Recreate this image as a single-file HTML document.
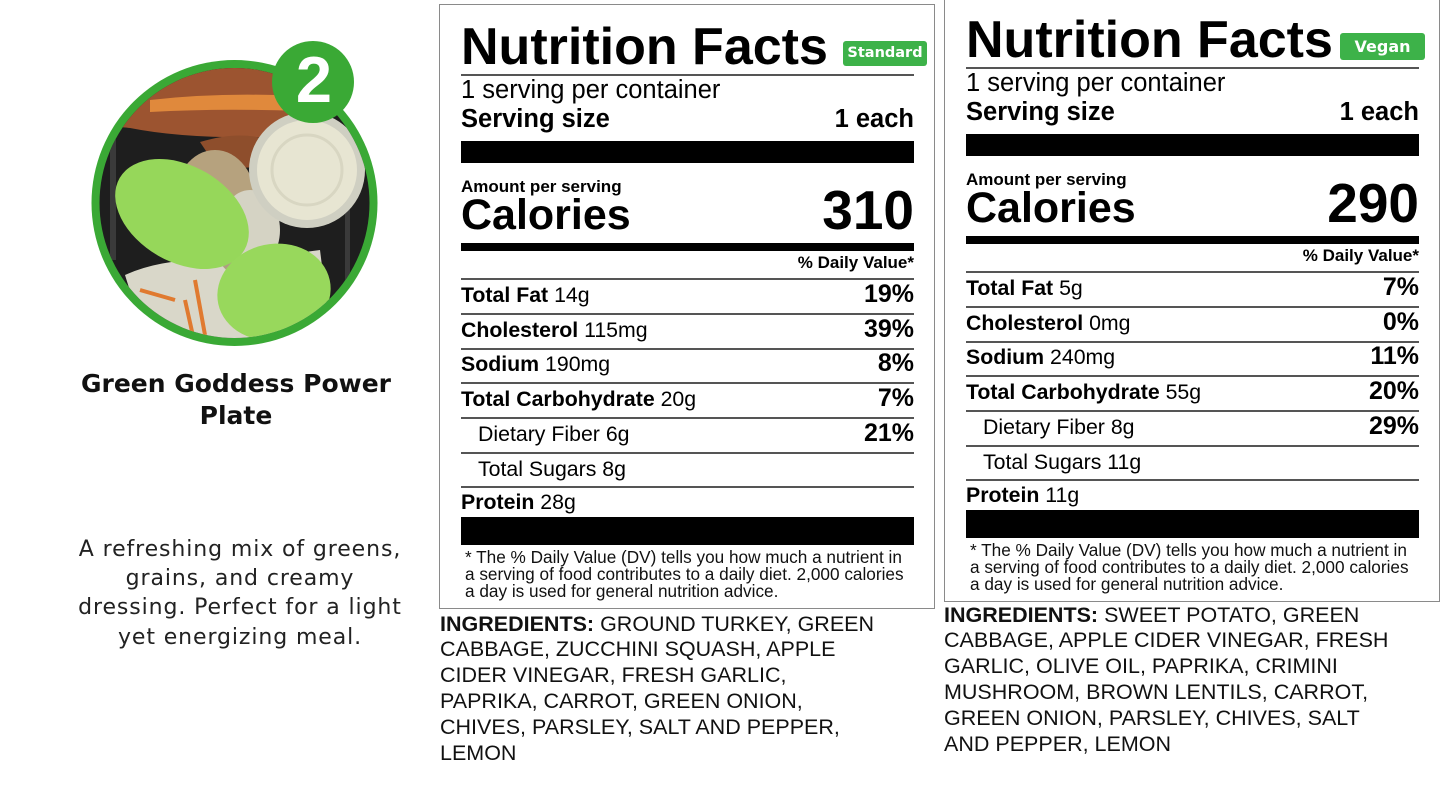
<!DOCTYPE html>
<html><head><meta charset="utf-8">
<style>
html,body{margin:0;padding:0;background:#fff;}
body{width:1445px;height:787px;position:relative;overflow:hidden;font-family:"Liberation Sans",Arial,sans-serif;color:#000;}
.t{position:absolute;white-space:nowrap;line-height:1;}
.b{font-weight:bold;}
.lab{position:absolute;width:1445px;height:787px;}
.box{position:absolute;left:439px;width:494px;border:1px solid #8a8a8a;}
.hl{position:absolute;left:461px;width:453px;height:2px;background:#555;}
.bar{position:absolute;left:461px;width:453px;background:#000;}
.r{right:531px;}
.row{font-size:21.3px;left:461px;}
.ind{left:478px;}
.pct{font-size:25px;font-weight:bold;right:531px;}
.badge{position:absolute;background:#3db249;border-radius:3px;color:#fff;font-family:"DejaVu Sans",sans-serif;font-weight:bold;font-size:14.5px;text-align:center;}
.foot{position:absolute;left:465px;font-size:17.2px;line-height:17.3px;white-space:nowrap;color:#111;}
.ing{position:absolute;font-size:21.5px;line-height:25.9px;white-space:nowrap;color:#111;}
</style></head>
<body>

<svg style="position:absolute;left:0;top:0" width="440" height="360" viewBox="0 0 440 360">
<defs><clipPath id="c"><circle cx="234.5" cy="203" r="135"/></clipPath></defs>
<circle cx="234.5" cy="203" r="143" fill="#3aa935"/>
<g clip-path="url(#c)">
 <rect x="90" y="55" width="300" height="300" fill="#1e1e1e"/>
 <rect x="110" y="130" width="6" height="130" fill="#3a3a3a"/>
 <rect x="345" y="200" width="5" height="80" fill="#3a3a3a"/>
 <path d="M100 125 Q150 72 240 62 L320 62 L320 135 Q200 142 130 128 Z" fill="#9c5430"/>
 <path d="M150 100 Q220 92 300 96 L300 111 Q220 108 150 112 Z" fill="#e0893c"/>
 <path d="M200 142 Q240 130 268 140 L258 166 Q230 172 212 160Z" fill="#8e4e2c"/>
 <path d="M125 275 Q170 255 230 262 L320 250 L330 330 L150 355 Z" fill="#d9d7c9"/>
 <path d="M140 290 L175 300 M195 280 L205 335 M185 300 L195 345 M230 275 L240 300 M135 305 L160 318" stroke="#e07a30" stroke-width="4" fill="none"/>
 <ellipse cx="215" cy="205" rx="42" ry="55" fill="#b6a27e"/>
 <ellipse cx="252" cy="258" rx="32" ry="20" fill="#ae9f80"/>
 <ellipse cx="250" cy="230" rx="30" ry="40" fill="#d5d3c4"/>
 <ellipse cx="182" cy="214" rx="72" ry="48" transform="rotate(30 182 214)" fill="#96d75a"/>
 <ellipse cx="274" cy="292" rx="57" ry="48" transform="rotate(-12 274 292)" fill="#98d85c"/>
 <circle cx="307" cy="170" r="58" fill="#cfcfc2"/>
 <circle cx="307" cy="170" r="50" fill="#e7e5d2"/>
 <circle cx="307" cy="170" r="35" fill="none" stroke="#d8d6c2" stroke-width="3"/>
</g>
<circle cx="313" cy="82" r="41" fill="#3aa935"/>
<text x="314" y="102" text-anchor="middle" font-family="Liberation Sans, sans-serif" font-weight="bold" font-size="65" fill="#fff">2</text>
</svg>

<div style="position:absolute;left:36px;width:400px;top:368.4px;text-align:center;font-family:'DejaVu Sans',sans-serif;font-weight:bold;font-size:25px;line-height:32px;color:#111;">Green Goddess Power<br>Plate</div>
<div style="position:absolute;left:40px;width:400px;top:534.7px;text-align:center;font-family:'DejaVu Sans',sans-serif;font-size:22px;letter-spacing:0.9px;line-height:29.3px;color:#222;white-space:nowrap;">A refreshing mix of greens,<br>grains, and creamy<br>dressing. Perfect for a light<br>yet energizing meal.</div>

<!-- Label 1 -->
<div class="lab" style="left:0;top:0;">
 <div class="box" style="top:4px;height:603px;"></div>
 <div class="t b" style="left:461px;top:21px;font-size:52px;">Nutrition Facts</div>
 <div class="badge" style="left:843px;top:41px;width:84px;height:25px;line-height:25px;">Standard</div>
 <div class="hl" style="top:74px;"></div>
 <div class="t" style="left:461px;top:78.4px;font-size:25.5px;">1 serving per container</div>
 <div class="t b" style="left:461px;top:107.4px;font-size:25.5px;">Serving size</div>
 <div class="t b r" style="top:107.4px;font-size:25.5px;">1 each</div>
 <div class="bar" style="top:141px;height:22px;"></div>
 <div class="t b" style="left:461px;top:177.6px;font-size:17px;">Amount per serving</div>
 <div class="t b" style="left:461px;top:193.6px;font-size:43px;">Calories</div>
 <div class="t b r" style="top:183.4px;font-size:55px;">310</div>
 <div class="bar" style="top:243px;height:8px;"></div>
 <div class="t b r" style="top:253.6px;font-size:17px;">% Daily Value*</div>
 <div class="hl" style="top:278px;"></div>
 <div class="t row" style="top:285px;"><b>Total Fat</b> 14g</div><div class="t pct" style="top:281.8px;">19%</div>
 <div class="hl" style="top:312.5px;"></div>
 <div class="t row" style="top:320px;"><b>Cholesterol</b> 115mg</div><div class="t pct" style="top:316.8px;">39%</div>
 <div class="hl" style="top:347.5px;"></div>
 <div class="t row" style="top:354px;"><b>Sodium</b> 190mg</div><div class="t pct" style="top:350.8px;">8%</div>
 <div class="hl" style="top:382px;"></div>
 <div class="t row" style="top:389px;"><b>Total Carbohydrate</b> 20g</div><div class="t pct" style="top:385.8px;">7%</div>
 <div class="hl" style="top:417px;"></div>
 <div class="t row ind" style="top:424px;">Dietary Fiber 6g</div><div class="t pct" style="top:420.8px;">21%</div>
 <div class="hl" style="top:451.5px;"></div>
 <div class="t row ind" style="top:458.5px;">Total Sugars 8g</div>
 <div class="hl" style="top:486px;"></div>
 <div class="t row" style="top:492px;"><b>Protein</b> 28g</div>
 <div class="bar" style="top:517px;height:28px;"></div>
 <div class="foot" style="top:548.5px;">* The % Daily Value (DV) tells you how much a nutrient in<br>a serving of food contributes to a daily diet. 2,000 calories<br>a day is used for general nutrition advice.</div>
</div>

<!-- Label 2 -->
<div class="lab" style="left:505px;top:-7px;">
 <div class="box" style="top:4px;height:603px;"></div>
 <div class="t b" style="left:461px;top:21px;font-size:52px;">Nutrition Facts</div>
 <div class="badge" style="left:835px;top:40px;width:85px;height:27px;line-height:27px;font-size:16px;">Vegan</div>
 <div class="hl" style="top:74px;"></div>
 <div class="t" style="left:461px;top:78.4px;font-size:25.5px;">1 serving per container</div>
 <div class="t b" style="left:461px;top:107.4px;font-size:25.5px;">Serving size</div>
 <div class="t b r" style="top:107.4px;font-size:25.5px;">1 each</div>
 <div class="bar" style="top:141px;height:22px;"></div>
 <div class="t b" style="left:461px;top:177.6px;font-size:17px;">Amount per serving</div>
 <div class="t b" style="left:461px;top:193.6px;font-size:43px;">Calories</div>
 <div class="t b r" style="top:183.4px;font-size:55px;">290</div>
 <div class="bar" style="top:243px;height:8px;"></div>
 <div class="t b r" style="top:253.6px;font-size:17px;">% Daily Value*</div>
 <div class="hl" style="top:278px;"></div>
 <div class="t row" style="top:285px;"><b>Total Fat</b> 5g</div><div class="t pct" style="top:281.8px;">7%</div>
 <div class="hl" style="top:312.5px;"></div>
 <div class="t row" style="top:320px;"><b>Cholesterol</b> 0mg</div><div class="t pct" style="top:316.8px;">0%</div>
 <div class="hl" style="top:347.5px;"></div>
 <div class="t row" style="top:354px;"><b>Sodium</b> 240mg</div><div class="t pct" style="top:350.8px;">11%</div>
 <div class="hl" style="top:382px;"></div>
 <div class="t row" style="top:389px;"><b>Total Carbohydrate</b> 55g</div><div class="t pct" style="top:385.8px;">20%</div>
 <div class="hl" style="top:417px;"></div>
 <div class="t row ind" style="top:424px;">Dietary Fiber 8g</div><div class="t pct" style="top:420.8px;">29%</div>
 <div class="hl" style="top:451.5px;"></div>
 <div class="t row ind" style="top:458.5px;">Total Sugars 11g</div>
 <div class="hl" style="top:486px;"></div>
 <div class="t row" style="top:492px;"><b>Protein</b> 11g</div>
 <div class="bar" style="top:517px;height:28px;"></div>
 <div class="foot" style="top:548.5px;">* The % Daily Value (DV) tells you how much a nutrient in<br>a serving of food contributes to a daily diet. 2,000 calories<br>a day is used for general nutrition advice.</div>
</div>

<div class="ing" style="left:440px;top:611.5px;"><b>INGREDIENTS:</b> GROUND TURKEY, GREEN<br>CABBAGE, ZUCCHINI SQUASH, APPLE<br>CIDER VINEGAR, FRESH GARLIC,<br>PAPRIKA, CARROT, GREEN ONION,<br>CHIVES, PARSLEY, SALT AND PEPPER,<br>LEMON</div>
<div class="ing" style="left:944px;top:602.5px;"><b>INGREDIENTS:</b> SWEET POTATO, GREEN<br>CABBAGE, APPLE CIDER VINEGAR, FRESH<br>GARLIC, OLIVE OIL, PAPRIKA, CRIMINI<br>MUSHROOM, BROWN LENTILS, CARROT,<br>GREEN ONION, PARSLEY, CHIVES, SALT<br>AND PEPPER, LEMON</div>

</body></html>
